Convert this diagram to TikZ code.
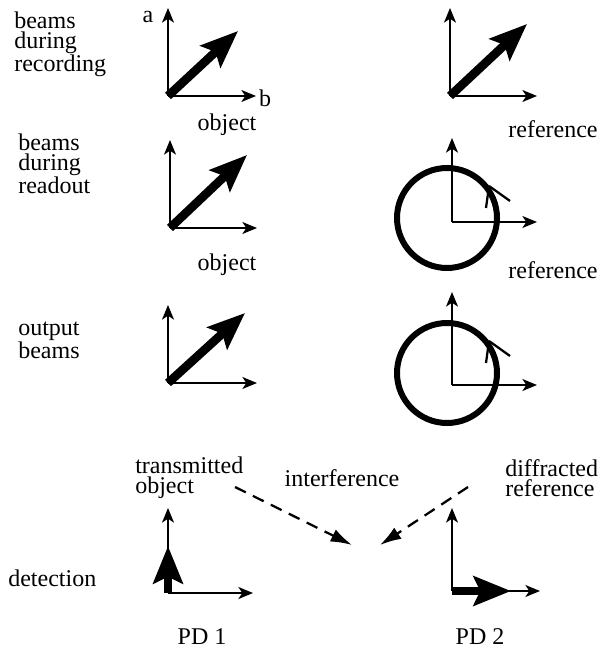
\documentclass[tikz,border=0pt]{standalone}
\usepackage{fontspec}
\setmainfont{Liberation Serif}
\usetikzlibrary{positioning,arrows.meta}

\begin{document}
\begin{tikzpicture}[
      x=0.75pt, y=-0.75pt,
      every node/.style={font=\fontsize{18}{15}\selectfont, align=left, inner sep=0pt},
      axis/.style={-{Stealth[length=11pt,width=9pt,inset=3pt]}, line width=1.3pt},
      beam/.style={-{Stealth[length=28pt,width=22pt,inset=5pt]}, line width=6.5pt},
      ring/.style={line width=4.5pt},
      tick/.style={line width=1.7pt},
      mix/.style={-{Latex[length=16pt,width=10pt]}, dash pattern=on 9pt off 6pt, line width=1.7pt},
  ]
    \useasboundingbox (0,0) rectangle (603,652);

    %% --- row labels ---
    \node[anchor=west] (rec) at (14,44) {beams\\during\\recording};
    \node[anchor=west] (read) at (18,164) {beams\\during\\readout};
    \node[anchor=west] (outb) at (18,340) {output\\beams};
    \node[anchor=west] (det) at (8,578) {detection};

    %% --- recording: object ---
    \coordinate (o1) at (168,96);
    \coordinate (o1a) at (168,8);
    \coordinate (o1b) at (256,96);
    \coordinate (o1t) at (238,31);
    \draw[axis] (o1) -- (o1a);
    \draw[axis] (o1) -- (o1b);
    \draw[beam] (o1) -- (o1t);
    \node (la) at (148,17) {a};
    \node (lb) at (265,98) {b};
    \node (obj1) at (227,125) {object};

    %% --- recording: reference ---
    \coordinate (r1) at (450,96);
    \coordinate (r1a) at (450,8);
    \coordinate (r1b) at (537,96);
    \coordinate (r1t) at (527,24);
    \draw[axis] (r1) -- (r1a);
    \draw[axis] (r1) -- (r1b);
    \draw[beam] (r1) -- (r1t);
    \node (ref1) at (553,129) {reference};

    %% --- readout: object ---
    \coordinate (o2) at (170,228);
    \coordinate (o2a) at (170,140);
    \coordinate (o2b) at (257,228);
    \coordinate (o2t) at (247,155);
    \draw[axis] (o2) -- (o2a);
    \draw[axis] (o2) -- (o2b);
    \draw[beam] (o2) -- (o2t);
    \node (obj2) at (227,265) {object};

    %% --- readout: reference ---
    \coordinate (r2) at (452,222);
    \coordinate (r2a) at (452,138);
    \coordinate (r2b) at (537,222);
    \draw[ring] (447,218) circle (50);
    \draw[axis] (r2) -- (r2a);
    \draw[axis] (r2) -- (r2b);
    \coordinate (r2p) at (489,186);
    \draw[tick] (r2p) -- (510,201);
    \draw[tick] (r2p) -- (486,208);
    \node (ref2) at (553,270) {reference};

    %% --- output: object ---
    \coordinate (o3) at (168,383);
    \coordinate (o3a) at (168,305);
    \coordinate (o3b) at (257,383);
    \coordinate (o3t) at (245,313);
    \draw[axis] (o3) -- (o3a);
    \draw[axis] (o3) -- (o3b);
    \draw[beam] (o3) -- (o3t);

    %% --- output: reference ---
    \coordinate (r3) at (452,385);
    \coordinate (r3a) at (452,292);
    \coordinate (r3b) at (537,385);
    \draw[ring] (447,373) circle (50);
    \draw[axis] (r3) -- (r3a);
    \draw[axis] (r3) -- (r3b);
    \coordinate (r3p) at (489,341);
    \draw[tick] (r3p) -- (510,356);
    \draw[tick] (r3p) -- (486,363);

    \node[anchor=west] (trans) at (135,478) {transmitted\\object};
    \node[anchor=west] (diff) at (505,478) {diffracted\\reference};
    \node (inter) at (342,478) {interference};

    %% --- interference ---
    \coordinate (m1) at (235,487);
    \coordinate (m2) at (468,487);
    \coordinate (f1) at (352,545);
    \coordinate (f2) at (380,545);
    \draw[mix] (m1) -- (f1);
    \draw[mix] (m2) -- (f2);

    %% --- detection ---
    \coordinate (d1) at (168,593);
    \coordinate (d1a) at (168,508);
    \coordinate (d1b) at (253,593);
    \coordinate (d1t) at (168,546);
    \draw[axis] (d1) -- (d1a);
    \draw[axis] (d1) -- (d1b);
    \draw[beam] (d1) -- (d1t);
    \node (pd1) at (202,637) {PD 1};

    \coordinate (d2) at (452,591);
    \coordinate (d2a) at (452,508);
    \coordinate (d2b) at (540,591);
    \coordinate (d2t) at (511,591);
    \draw[axis] (d2) -- (d2a);
    \draw[axis] (d2) -- (d2b);
    \draw[beam] (d2) -- (d2t);
    \node (pd2) at (480,637) {PD 2};
  \end{tikzpicture}
\end{document}
